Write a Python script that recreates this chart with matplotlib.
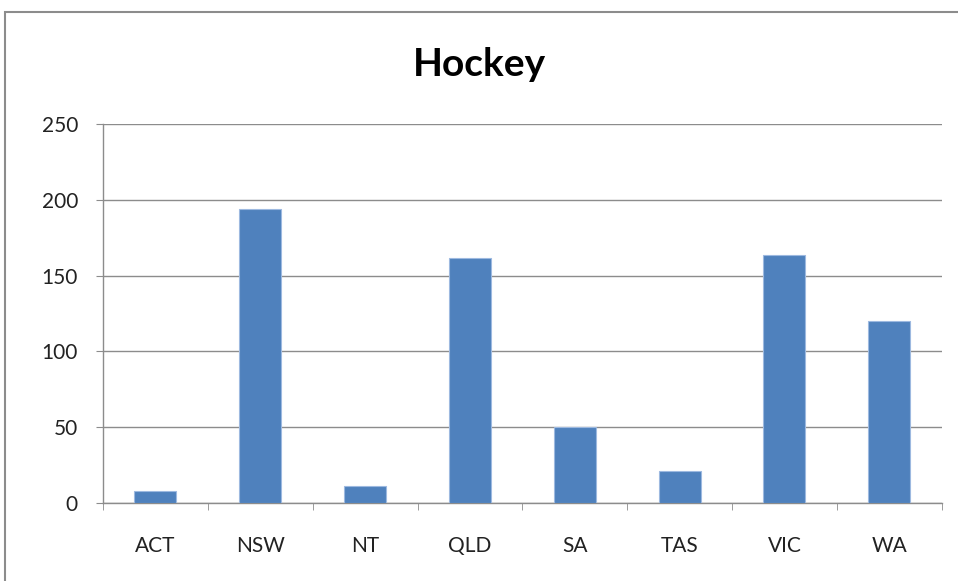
import numpy as np
from matplotlib import pyplot as plt
from matplotlib.patches import Rectangle
from matplotlib.ticker import FixedLocator

states = ['ACT', 'NSW', 'NT', 'QLD', 'SA', 'TAS', 'VIC', 'WA']
hockey = [8, 194, 11, 162, 50, 21, 164, 120]
yticks = [0, 50, 100, 150, 200, 250]

plt.rcParams['font.family'] = ['Lato', 'DejaVu Sans']

fig = plt.figure(figsize=(9.58, 5.81), dpi=100)
ax = fig.add_axes([0.1075, 0.1348, 0.8755, 0.6511])

# outer chart frame (only top/left visible in the crop)
fig.patches.append(Rectangle((5 / 958, -0.1), 1.2, 1 - 12 / 581 + 0.1,
                             transform=fig.transFigure, fill=False,
                             edgecolor='#8c8c8c', linewidth=1.5))

x = np.arange(len(states))
ax.bar(x, hockey, width=0.4, color='#4F81BD', edgecolor='#9DB9E0', linewidth=0.8, zorder=3)

ax.set_xlim(-0.5, len(states) - 0.5)
ax.set_ylim(0, 250)
ax.set_yticks(yticks)
ax.set_xticks(x)
ax.set_xticklabels(states)
ax.xaxis.set_minor_locator(FixedLocator(np.arange(-0.5, len(states), 1.0)))

ax.grid(axis='y', color='#8c8c8c', linewidth=1.0, zorder=0)
for s in ['top', 'right']:
    ax.spines[s].set_visible(False)
for s in ['left', 'bottom']:
    ax.spines[s].set_color('#8c8c8c')
    ax.spines[s].set_linewidth(1.0)

ax.tick_params(axis='y', length=5, color='#8c8c8c', labelsize=15, pad=13, labelcolor='#222222')
ax.tick_params(axis='x', which='major', length=0, labelsize=15, pad=24, labelcolor='#222222')
ax.tick_params(axis='x', which='minor', length=5, color='#8c8c8c')

fig.text(0.5, 1 - 65 / 581, 'Hockey', ha='center', va='center',
         fontsize=28, fontweight='bold')

fig.savefig('out.png', dpi=100)
